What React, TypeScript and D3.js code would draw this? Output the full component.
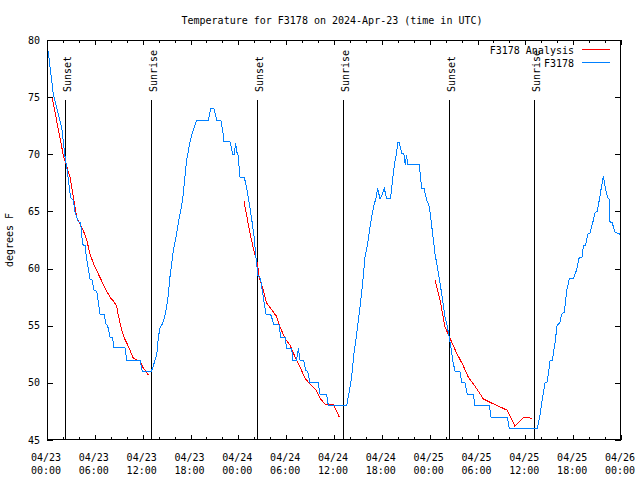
import React from "react";
import * as d3 from "d3";

const TITLE = "Temperature for F3178 on 2024-Apr-23 (time in UTC)";
const Y_LABEL = "degrees F";
const START = "2024-04-23T00:00:00Z";
const END = "2024-04-26T00:00:00Z";
const Y_MIN = 45;
const Y_MAX = 80;
const Y_TICKS = [45, 50, 55, 60, 65, 70, 75, 80];
const SERIES_NAMES = ["F3178 Analysis", "F3178"];
const SERIES_COLORS = ["#ff0000", "#0080ff"];
const SUNSET_HOURS = [2.3, 26.38, 50.46];
const SUNRISE_HOURS = [13.08, 37.17, 61.13];

// observed temperature: [hours since 04/23 00:00 UTC, deg F]
const OBSERVED: [number, number][] = [
  [0.15, 79.0], [0.8, 75.2], [1.85, 72.3], [2.26, 69.8], [2.47, 68.9], [2.97, 66.2], [3.3, 66.0], [3.5, 65.0],
  [3.93, 64.1], [4.2, 64.0], [4.35, 63.1], [4.45, 62.1], [4.77, 62.0], [4.98, 60.8], [5.18, 60.0], [5.39, 59.1],
  [5.65, 59.0], [5.9, 58.1], [6.25, 58.0], [6.44, 57.0], [6.65, 56.0], [7.19, 56.0], [7.36, 55.2], [7.61, 55.0],
  [7.9, 54.0], [8.2, 54.0], [8.4, 53.1], [9.78, 53.1], [10.0, 52.0], [11.67, 52.0], [11.95, 51.0], [13.05, 51.0],
  [13.26, 51.3], [13.55, 52.0], [13.76, 52.4], [13.97, 54.0], [14.17, 54.8], [14.51, 55.2], [14.8, 55.9], [15.14, 57.2],
  [15.43, 59.3], [15.85, 61.6], [16.27, 63.1], [16.6, 64.5], [17.02, 66.0], [17.22, 67.5], [17.52, 69.5], [17.94, 71.1],
  [18.28, 72.0], [18.78, 73.0], [20.24, 73.0], [20.53, 74.0], [20.94, 74.0], [21.28, 73.0], [21.8, 73.0], [22.04, 72.1],
  [22.2, 71.1], [22.96, 71.1], [23.29, 70.0], [23.5, 70.0], [23.65, 71.0], [23.8, 70.2], [23.95, 70.0], [24.21, 68.0],
  [24.75, 68.0], [25.05, 67.0], [25.3, 66.0], [25.68, 64.3], [25.97, 62.8], [26.21, 61.0], [26.45, 59.4], [26.8, 59.1],
  [26.93, 58.4], [27.13, 57.5], [27.47, 56.0], [28.05, 56.0], [28.47, 55.1], [29.1, 55.1], [29.31, 54.0], [29.85, 54.0],
  [30.07, 53.0], [30.7, 53.0], [30.82, 52.0], [31.3, 52.0], [31.53, 53.0], [31.74, 52.0], [32.2, 52.0], [32.45, 51.1],
  [32.7, 51.0], [32.99, 50.0], [34.03, 50.0], [34.25, 49.0], [35.08, 49.0], [35.29, 48.0], [37.6, 48.0], [37.8, 48.8],
  [38.21, 50.5], [38.51, 52.6], [38.85, 54.3], [39.17, 56.1], [39.55, 58.4], [39.89, 61.0], [40.22, 62.2], [40.6, 64.0],
  [40.93, 65.3], [41.27, 66.2], [41.48, 67.0], [41.77, 66.1], [42.0, 66.4], [42.32, 67.0], [42.6, 66.1], [43.09, 66.1],
  [43.3, 67.5], [43.6, 69.2], [43.86, 70.2], [43.99, 71.0], [44.2, 71.0], [44.5, 70.1], [44.75, 70.1], [44.94, 69.1],
  [45.1, 69.9], [45.25, 69.1], [45.45, 69.1], [46.7, 69.1], [47.0, 67.0], [47.3, 67.0], [47.63, 66.0], [47.96, 65.4],
  [48.26, 63.7], [48.67, 61.3], [49.09, 59.6], [49.51, 57.8], [49.92, 55.8], [50.22, 54.9], [50.45, 54.0], [50.64, 53.2],
  [50.89, 52.0], [51.18, 51.0], [51.8, 51.0], [52.02, 50.0], [52.43, 50.0], [52.72, 49.0], [53.48, 49.0], [53.69, 48.0],
  [55.48, 48.0], [55.7, 47.0], [57.74, 47.0], [57.99, 46.0], [61.5, 46.0], [61.84, 47.2], [62.18, 48.8], [62.47, 50.0],
  [62.75, 50.1], [63.1, 51.9], [63.4, 52.0], [63.72, 53.5], [64.0, 55.1], [64.3, 55.2], [64.56, 56.0], [64.9, 56.2],
  [65.19, 58.1], [65.52, 59.1], [66.02, 59.1], [66.44, 59.9], [66.77, 61.0], [67.1, 61.0], [67.3, 62.0], [67.55, 62.0],
  [67.82, 63.0], [68.1, 63.1], [68.45, 64.0], [68.74, 64.9], [69.0, 65.0], [69.28, 66.0], [69.49, 66.9], [69.78, 68.1],
  [70.08, 66.9], [70.33, 66.2], [70.5, 66.1], [70.62, 64.1], [70.9, 64.0], [71.25, 63.2], [71.88, 63.0],
];

// analysis segments: [hours since 04/23 00:00 UTC, deg F]
const ANALYSIS_1: [number, number][] = [
  [0.67, 74.9], [2.05, 69.9], [2.88, 68.0], [3.51, 65.4], [3.72, 64.5], [4.22, 63.8], [4.68, 63.1], [4.98, 62.5],
  [5.39, 61.3], [5.9, 60.3], [6.56, 59.35], [7.28, 58.3], [7.9, 57.5], [8.4, 57.1], [8.74, 56.7], [8.95, 55.9],
  [9.37, 54.6], [9.78, 53.8], [10.2, 53.2], [10.83, 52.15], [11.67, 51.9], [12.08, 51.3], [12.71, 50.7],
];
const ANALYSIS_2: [number, number][] = [
  [24.71, 65.9], [25.46, 63.1], [25.97, 61.5], [26.38, 60.5], [26.6, 59.3], [27.05, 58.3], [27.55, 57.0], [28.06, 56.5],
  [28.81, 55.8], [29.23, 54.9], [29.85, 53.9], [30.48, 53.3], [31.1, 52.3], [31.74, 51.4], [32.36, 50.4], [32.99, 49.9],
  [33.74, 49.4], [34.25, 48.65], [34.87, 48.15], [35.84, 48.15], [36.13, 47.8], [36.67, 47.0],
];
const ANALYSIS_3: [number, number][] = [
  [48.67, 59.0], [49.3, 57.25], [49.92, 54.9], [50.55, 53.9], [51.39, 52.6], [52.14, 51.6], [52.84, 50.5], [53.69, 49.7],
  [54.73, 48.6], [55.57, 48.3], [56.82, 47.9], [57.74, 47.6], [58.7, 46.2], [59.83, 47.0], [60.8, 46.9],
];

const W = 640;
const H = 480;
const M = { left: 47, right: 621, top: 40, bottom: 440 };
const FONT = "'DejaVu Sans Mono', 'Liberation Mono', monospace";

export default function App() {
  const t0 = new Date(START).getTime();
  const toDate = (h: number) => new Date(t0 + h * 3600 * 1000);
  const x = d3.scaleUtc().domain([new Date(START), new Date(END)]).range([M.left, M.right]);
  const y = d3.scaleLinear().domain([Y_MIN, Y_MAX]).range([M.bottom, M.top]);
  const line = d3
    .line<[number, number]>()
    .x((d) => x(toDate(d[0])))
    .y((d) => y(d[1]));

  const majorTicks = x.ticks(d3.utcHour.every(6)!);
  const minorTicks = x.ticks(d3.utcHour.every(2)!);
  const fmtDate = d3.utcFormat("%m/%d");
  const fmtTime = d3.utcFormat("%H:%M");
  const px = (v: number) => Math.round(v) + 0.5;

  const markers = [
    ...SUNSET_HOURS.map((h) => ({ h, label: "Sunset" })),
    ...SUNRISE_HOURS.map((h) => ({ h, label: "Sunrise" })),
  ];
  const markerTop = Y_MIN + 0.85 * (Y_MAX - Y_MIN);
  const labelBase = Y_MIN + 0.87 * (Y_MAX - Y_MIN);

  return (
    <svg
      width={W}
      height={H}
      style={{ position: "absolute", left: 0, top: 0, background: "#fff" }}
      fontFamily={FONT}
      fontSize={10}
    >
      <rect x={0} y={0} width={W} height={H} fill="#fff" />
      <text x={332} y={24} textAnchor="middle" fill="#000">{TITLE}</text>
      <text transform={`translate(13,${(M.top + M.bottom) / 2}) rotate(-90)`} textAnchor="middle" fill="#000">
        {Y_LABEL}
      </text>

      <g stroke="#000" shapeRendering="crispEdges">
        {minorTicks.map((t, i) => (
          <g key={"mn" + i}>
            <line x1={px(x(t))} x2={px(x(t))} y1={M.bottom} y2={M.bottom - 3} />
            <line x1={px(x(t))} x2={px(x(t))} y1={M.top} y2={M.top + 3} />
          </g>
        ))}
        {majorTicks.map((t, i) => (
          <g key={"mj" + i}>
            <line x1={px(x(t))} x2={px(x(t))} y1={M.bottom} y2={M.bottom - 5} />
            <line x1={px(x(t))} x2={px(x(t))} y1={M.top} y2={M.top + 5} />
          </g>
        ))}
        {Y_TICKS.map((v, i) => (
          <g key={"yt" + i}>
            <line x1={M.left} x2={M.left + 6} y1={px(y(v))} y2={px(y(v))} />
            <line x1={M.right} x2={M.right - 6} y1={px(y(v))} y2={px(y(v))} />
          </g>
        ))}
      </g>

      {Y_TICKS.map((v, i) => (
        <text key={"yl" + i} x={40} y={y(v) + 3.6} textAnchor="end" fill="#000">{v}</text>
      ))}
      {majorTicks.map((t, i) => (
        <g key={"xl" + i}>
          <text x={x(t) - 1} y={461} textAnchor="middle" fill="#000">{fmtDate(t)}</text>
          <text x={x(t) - 1} y={474} textAnchor="middle" fill="#000">{fmtTime(t)}</text>
        </g>
      ))}

      {markers.map((m, i) => {
        const mx = px(x(toDate(m.h)));
        return (
          <g key={"mk" + i}>
            <line x1={mx} x2={mx} y1={y(Y_MIN)} y2={y(markerTop)} stroke="#000" shapeRendering="crispEdges" />
            <text transform={`translate(${mx + 5.5},${y(labelBase)}) rotate(-90)`} fill="#000">{m.label}</text>
          </g>
        );
      })}

      {[ANALYSIS_1, ANALYSIS_2, ANALYSIS_3].map((seg, i) => (
        <path key={"an" + i} d={line(seg) || ""} fill="none" stroke={SERIES_COLORS[0]} strokeWidth={1} shapeRendering="crispEdges" />
      ))}
      <path d={line(OBSERVED) || ""} fill="none" stroke={SERIES_COLORS[1]} strokeWidth={1} shapeRendering="crispEdges" />

      {SERIES_NAMES.map((name, i) => (
        <g key={"lg" + i}>
          <text x={574} y={53.5 + i * 13} textAnchor="end" fill="#000">{name}</text>
          <line x1={582} x2={610} y1={49.5 + i * 13} y2={49.5 + i * 13} stroke={SERIES_COLORS[i]} shapeRendering="crispEdges" />
        </g>
      ))}

      <rect
        x={M.left + 0.5}
        y={M.top + 0.5}
        width={M.right - M.left - 1}
        height={M.bottom - M.top - 1}
        fill="none"
        stroke="#000"
        shapeRendering="crispEdges"
      />
    </svg>
  );
}
